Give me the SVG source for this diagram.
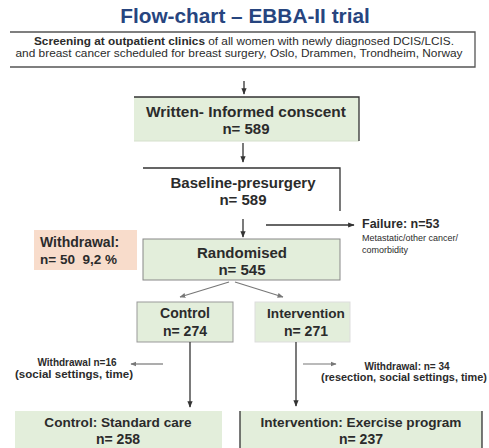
<svg xmlns="http://www.w3.org/2000/svg" width="489" height="448" viewBox="0 0 489 448">
<defs>
<style>
text{font-family:"Liberation Sans",Arial,sans-serif;fill:#2b2b2b;text-anchor:middle}
.b{font-weight:bold}
.main{font-size:15px;font-weight:bold}
.mid{font-size:13.6px;font-weight:bold}
.small{font-size:10px;font-weight:bold}
.green{fill:#e3eedb}
.dk{stroke:#333;stroke-width:1.3;fill:none}
.lt{stroke:#aaa;stroke-width:1;fill:none}
.arr{stroke:#333;stroke-width:1.3;fill:none;marker-end:url(#ah)}
.garr{stroke:#777;stroke-width:1.2;fill:none;marker-end:url(#ahg)}
</style>
<marker id="ah" viewBox="0 0 10 10" refX="9" refY="5" markerWidth="5" markerHeight="5" orient="auto"><path d="M0,1 L10,5 L0,9 z" fill="#333"/></marker>
<marker id="ahg" viewBox="0 0 10 10" refX="9" refY="5" markerWidth="5" markerHeight="5" orient="auto"><path d="M0,1 L10,5 L0,9 z" fill="#777"/></marker>
</defs>
<rect width="489" height="448" fill="#fff"/>
<text x="245" y="23" style="font-size:20.8px;font-weight:bold;fill:#27457f">Flow-chart – EBBA-II trial</text>

<g id="screening">
<rect x="10" y="32" width="465" height="35" fill="#fff"/>
<path d="M10,32 H475 V67 H10" class="dk" style="stroke:#555"/>
<text x="244" y="45" style="font-size:10.3px" textLength="420" lengthAdjust="spacingAndGlyphs"><tspan class="b">Screening at outpatient clinics</tspan> of all women with newly diagnosed DCIS/LCIS.</text>
<text x="239" y="57" style="font-size:10.3px" textLength="447" lengthAdjust="spacingAndGlyphs">and breast cancer scheduled for breast surgery, Oslo, Drammen, Trondheim, Norway</text>
</g>

<g id="consent">
<rect x="134" y="97" width="225" height="44" class="green"/>
<path d="M134,141 H359" class="lt" style="stroke:#d5e0cc"/>
<path d="M134,97 H359 V141" class="dk"/>
<text x="246" y="117" class="main" style="font-size:15.4px">Written- Informed conscent</text>
<text x="246" y="134" class="main">n= 589</text>
</g>

<g id="baseline">
<path d="M143,168 H340 V211" class="dk"/>
<text x="243" y="188" class="main">Baseline-presurgery</text>
<text x="243" y="205" class="main">n= 589</text>
</g>

<g id="failure">
<text x="362" y="228" style="text-anchor:start;font-size:12.5px;font-weight:bold">Failure: n=53</text>
<text x="362" y="241" style="text-anchor:start;font-size:9px">Metastatic/other cancer/</text>
<text x="362" y="253" style="text-anchor:start;font-size:9px">comorbidity</text>
</g>

<g id="withdrawal">
<rect x="34" y="230" width="103" height="40" fill="#f8dccb"/>
<text x="40" y="247" style="text-anchor:start;font-size:14px;font-weight:bold">Withdrawal:</text>
<text x="40" y="264" style="text-anchor:start;font-size:13.5px;font-weight:bold;white-space:pre" xml:space="preserve">n= 50  9,2 %</text>
</g>

<g id="randomised">
<rect x="143" y="239" width="197" height="41" class="green" stroke="#888" stroke-width="1"/>
<text x="242" y="258" class="main">Randomised</text>
<text x="242" y="275" class="main">n= 545</text>
</g>

<g id="control">
<rect x="137" y="302" width="96" height="40" class="green" stroke="#999" stroke-width="1"/>
<text x="185" y="318" class="mid" style="font-size:14px">Control</text>
<text x="185" y="336" class="mid" style="font-size:14px">n= 274</text>
</g>

<g id="intervention">
<rect x="255" y="302" width="95" height="40" class="green" stroke="#ddd" stroke-width="1"/>
<text x="306" y="318" class="mid">Intervention</text>
<text x="306" y="336" class="mid" style="font-size:14px">n= 271</text>
</g>

<g id="ctrl-withdrawal">
<text x="77" y="366" class="small">Withdrawal n=16</text>
<text x="74" y="378" class="small" textLength="118" lengthAdjust="spacingAndGlyphs">(social settings, time)</text>
</g>

<g id="int-withdrawal">
<text x="407" y="370" class="small">Withdrawal: n= 34</text>
<text x="404" y="381" class="small" textLength="166" lengthAdjust="spacingAndGlyphs">(resection, social settings, time)</text>
</g>

<g id="standard-care">
<rect x="15" y="411" width="207" height="40" class="green"/>
<text x="118" y="427" class="mid">Control: Standard care</text>
<text x="118" y="444" class="mid" style="font-size:14px">n= 258</text>
</g>

<g id="exercise">
<rect x="240" y="411" width="242" height="40" class="green"/>
<path d="M240,411 V448 M482,411 V448" class="dk"/>
<text x="361" y="427" class="mid">Intervention: Exercise program</text>
<text x="361" y="444" class="mid" style="font-size:14px">n= 237</text>
</g>

<g id="connectors">
<path d="M244,81 V94" class="arr"/>
<path d="M243,143 V162" class="arr"/>
<path d="M243,219 V237" class="arr"/>
<path d="M266,225 H354" class="arr"/>
<path d="M229,282 L180,297" class="garr"/>
<path d="M235,282 L283,297" class="garr"/>
<path d="M190,342 V407" class="arr"/>
<path d="M296,342 V406" class="arr"/>
<path d="M163,364 H131" class="garr"/>
<path d="M303,364 H336" class="garr"/>
</g>
</svg>
